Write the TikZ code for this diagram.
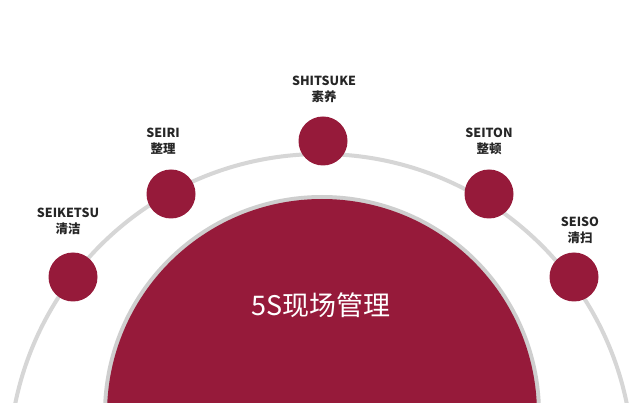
\documentclass[tikz,border=0pt]{standalone}
\usepackage{fontspec}
\setmainfont{Noto Sans CJK SC}
\definecolor{crimson}{RGB}{150,26,58}
\definecolor{ringgray}{RGB}{206,206,206}
\definecolor{arcgray}{RGB}{214,214,214}
\tikzset{
  dot/.style={circle, fill=crimson, minimum size=49pt, inner sep=0pt},
  lbl/.style={align=center, font=\fontsize{12.5pt}{16pt}\selectfont\bfseries, text=black!85, inner sep=0pt}
}
\begin{document}
\begin{tikzpicture}[x=1pt,y=-1pt]
\useasboundingbox (0,0) rectangle (640,403);
\fill[white] (0,0) rectangle (640,403);
\clip (0,0) rectangle (640,403);
% outer arc
\draw[arcgray, line width=4pt] (321,466) circle[radius=312];
% big semicircle with gray ring
\fill[ringgray] (322,414) circle[radius=219];
\fill[crimson] (322,414) circle[radius=215];
\node[text=white, font=\fontsize{27pt}{32pt}\selectfont] (center) at (321,305) {5S现场管理};
% dots
\node[dot] (shitsuke) at (323,141) {};
\node[dot] (seiri) at (171,194) {};
\node[dot] (seiton) at (489,194) {};
\node[dot] (seiketsu) at (73,277) {};
\node[dot] (seiso) at (574,277) {};
% labels
\node[lbl] (lshitsuke) at (324,89) {SHITSUKE\\素养};
\node[lbl] (lseiri) at (163,141) {SEIRI\\整理};
\node[lbl] (lseiton) at (489,141) {SEITON\\整顿};
\node[lbl] (lseiketsu) at (68,221) {SEIKETSU\\清洁};
\node[lbl] (lseiso) at (580,230) {SEISO\\清扫};
\end{tikzpicture}
\end{document}
